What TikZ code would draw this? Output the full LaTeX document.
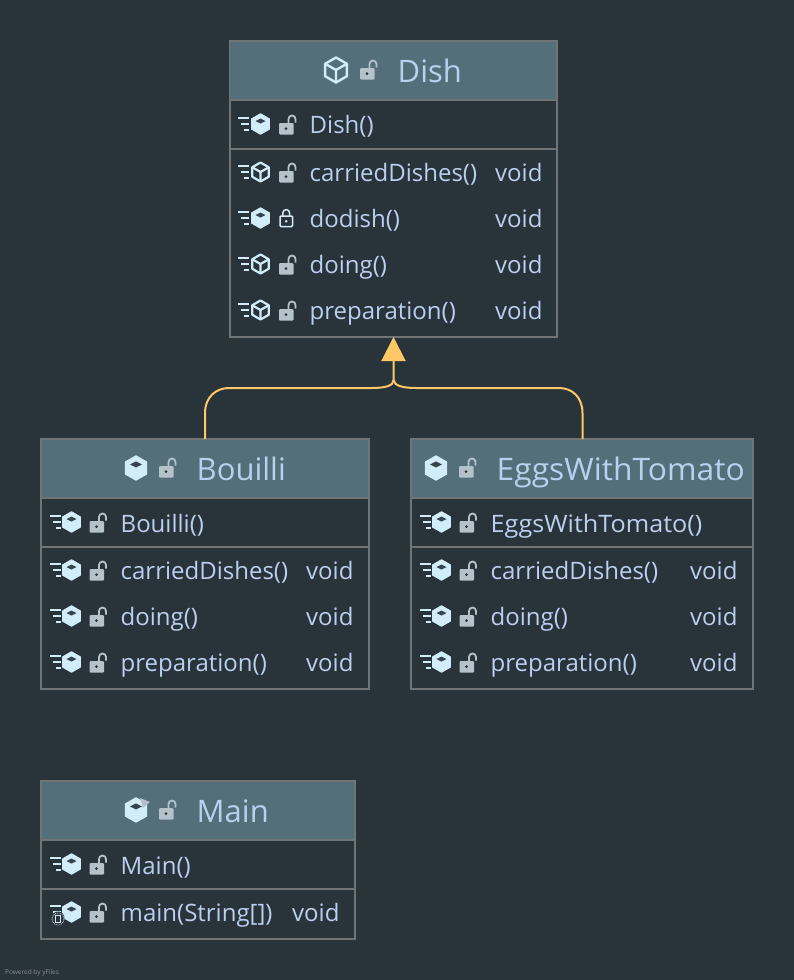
\documentclass[tikz,border=0pt]{standalone}
\usepackage{fontspec}
\setmainfont{Open Sans}
\usetikzlibrary{arrows.meta,calc}
\definecolor{bgc}{HTML}{29333A}
\definecolor{hdr}{HTML}{546E7A}
\definecolor{bord}{HTML}{707475}
\definecolor{txt}{HTML}{BAD0EE}
\definecolor{ico}{HTML}{D2ECFA}
\definecolor{lck}{HTML}{B4C3CA}
\definecolor{org}{HTML}{FFC766}
\tikzset{
  classbox/.style={draw=bord,line width=2pt,fill=bgc,inner sep=0pt,outer sep=0pt,anchor=north west},
  rowtext/.style={text=txt,font=\fontsize{24}{26}\selectfont,anchor=base west,inner sep=0pt,yshift=-.7pt},
  headtext/.style={text=txt,font=\fontsize{31}{32}\selectfont,anchor=base west,inner sep=0pt,yshift=-1pt},
  conn/.style={draw=org,line width=2pt},
}
\newcommand{\hexa}[3]{(#1,#2-#3) -- (#1+.87*#3,#2-.5*#3) -- (#1+.87*#3,#2+.5*#3) -- (#1,#2+#3) -- (#1-.87*#3,#2+.5*#3) -- (#1-.87*#3,#2-.5*#3) -- cycle}
\newcommand{\fullcube}[3]{%
  \fill[ico,line join=round,draw=ico,line width=1.4pt] \hexa{#1}{#2}{#3};
  \fill[bgc!70!hdr] (#1,#2-.55*#3) -- (#1+.5*#3,#2-.3*#3) -- (#1,#2-.05*#3) -- (#1-.5*#3,#2-.3*#3) -- cycle;}
\newcommand{\opencube}[4]{%
  \draw[ico,line width=#4,line join=round] \hexa{#1}{#2}{#3};
  \draw[ico,line width=#4,line join=round] (#1-.87*#3,#2-.5*#3) -- (#1,#2) -- (#1+.87*#3,#2-.5*#3) (#1,#2) -- (#1,#2+#3);}
\newcommand{\speed}[2]{%
  \draw[ico,line width=2pt] (#1,#2-6) -- +(11,0) (#1+3,#2) -- +(8,0) (#1+6,#2+6) -- +(5,0);}
\newcommand{\unlock}[2]{%
  \fill[lck,rounded corners=1pt] (#1,#2) rectangle +(14.5,11.5);
  \fill[bgc] (#1+7,#2+5.7) circle (1.5);
  \draw[lck,line width=1.8pt] (#1+9.5,#2+.5) -- (#1+9.5,#2-4) arc[start angle=180,end angle=360,radius=3.5] -- +(0,3.5);}
\newcommand{\closedlock}[2]{%
  \draw[ico,line width=1.5pt,rounded corners=1pt] (#1,#2) rectangle +(12.5,10.5);
  \fill[ico] (#1+6.2,#2+5.3) circle (1.4);
  \draw[ico,line width=1.5pt] (#1+2.8,#2) -- +(0,-3) arc[start angle=180,end angle=360,radius=3.4] -- +(0,3);}
\newcommand{\rowdish}[2]{\speed{#1}{#2}\fullcube{#1+22.5}{#2}{10}\unlock{#1+41}{#2-1}}
\newcommand{\rowfull}[2]{\speed{#1}{#2}\fullcube{#1+21.5}{#2}{10}\unlock{#1+39.5}{#2-1}}
\newcommand{\rowopen}[2]{\speed{#1}{#2}\opencube{#1+22.5}{#2}{9.5}{2.2pt}\unlock{#1+41}{#2-1}}
\begin{document}
\begin{tikzpicture}[x=1pt,y=-1pt]
\useasboundingbox (0,0) rectangle (794,980);
\fill[bgc] (0,0) rectangle (794,980);
\node[classbox,minimum width=327pt,minimum height=296pt] (Dish) at (229.5,41) {};
\node[classbox,minimum width=328pt,minimum height=250pt] (Bouilli) at (41,439) {};
\node[classbox,minimum width=342pt,minimum height=250pt] (Eggs) at (411,439) {};
\node[classbox,minimum width=314pt,minimum height=158pt] (Main) at (41,781) {};
\fill[hdr] (230,42) rectangle (556,99);
\fill[hdr] (42,440) rectangle (368,497);
\fill[hdr] (412,440) rectangle (752,497);
\fill[hdr] (42,782) rectangle (354,839);
\foreach \xa/\xb/\ya/\yb in {229/557/100/149,41/369/498/547,411/753/498/547,41/355/840/889}{
  \draw[bord,line width=2pt] (\xa,\ya) -- (\xb,\ya);
  \draw[bord,line width=2pt] (\xa,\yb) -- (\xb,\yb);
}
\node[headtext] (tDish) at (397.5,81) {Dish};
\node[headtext] (tBou) at (196.5,479) {Bouilli};
\node[headtext] (tEgg) at (496.5,479) {\scalebox{1.025}[1]{EggsWithTomato}};
\node[headtext] (tMain) at (196.5,821) {Main};
\opencube{336}{70}{12.5}{2.4pt}
\unlock{360}{68}
\fullcube{136}{468}{12}\unlock{159}{466}
\fullcube{436}{468}{12}\unlock{459}{466}
\fullcube{136}{810}{12}\unlock{159}{808}
\fill[lck] (140,798) -- (150,802) -- (143,808) -- cycle;
\rowdish{238}{124}
\rowopen{238}{172}
\speed{238}{218}\fullcube{260.5}{218}{10}\closedlock{280}{216}
\rowopen{238}{264}
\rowopen{238}{310}
\node[rowtext] (d1) at (309.5,133) {Dish()};
\node[rowtext] (d2) at (309.5,181) {carriedDishes()};
\node[rowtext] (d3) at (309.5,227) {dodish()};
\node[rowtext] (d4) at (309.5,273) {doing()};
\node[rowtext] (d5) at (309.5,319) {preparation()};
\node[rowtext] (dv2) at (495,181) {void};
\node[rowtext] (dv3) at (495,227) {void};
\node[rowtext] (dv4) at (495,273) {void};
\node[rowtext] (dv5) at (495,319) {void};
\rowfull{50}{522}\rowfull{50}{570}\rowfull{50}{616}\rowfull{50}{662}
\node[rowtext] (b1) at (120.5,532) {Bouilli()};
\node[rowtext] (b2) at (120.5,579) {carriedDishes()};
\node[rowtext] (b3) at (120.5,625) {doing()};
\node[rowtext] (b4) at (120.5,671) {preparation()};
\node[rowtext] (bv2) at (306,579) {void};
\node[rowtext] (bv3) at (306,625) {void};
\node[rowtext] (bv4) at (306,671) {void};
\rowfull{420}{522}\rowfull{420}{570}\rowfull{420}{616}\rowfull{420}{662}
\node[rowtext] (e1) at (490.5,532) {\scalebox{1.05}[1]{EggsWithTomato()}};
\node[rowtext] (e2) at (490.5,579) {carriedDishes()};
\node[rowtext] (e3) at (490.5,625) {doing()};
\node[rowtext] (e4) at (490.5,671) {preparation()};
\node[rowtext] (ev2) at (690,579) {void};
\node[rowtext] (ev3) at (690,625) {void};
\node[rowtext] (ev4) at (690,671) {void};
\rowfull{50}{864}\rowfull{50}{912}
\fill[bgc] (58,918) circle (6.5);
\draw[ico,line width=.8pt,densely dotted] (58,919) circle (6);
\draw[ico,line width=1pt] (55.5,915) rectangle (60.5,922);
\node[rowtext] (m1) at (120.5,874) {Main()};
\node[rowtext] (m2) at (120.5,921) {main(String[])};
\node[rowtext] (mv2) at (292,921) {void};
\node[text=white!45!bgc,font=\fontsize{6.5}{7}\selectfont,anchor=base west,inner sep=0pt] (powered) at (5,974) {Powered by yFiles};
% connectors
\coordinate (bs) at ($(Bouilli.north west)+(164,0)$);
\coordinate (es) at ($(Eggs.north west)+(171.5,0)$);
\coordinate (join) at ($(Dish.south)+(0.5,43)$);
\draw[conn,-{Triangle[length=24pt,width=24pt]}] (bs) -- ++(0,-26) .. controls +(0,-16) and +(-13,0) .. (229,388) -- (372,388) .. controls (384,388) and (394,386) .. (join) -- (join |- Dish.south);
\draw[conn] (es) -- ++(0,-26) .. controls +(0,-16) and +(13,0) .. (559,388) -- (416,388) .. controls (404,388) and (394,386) .. (join);
\end{tikzpicture}
\end{document}
